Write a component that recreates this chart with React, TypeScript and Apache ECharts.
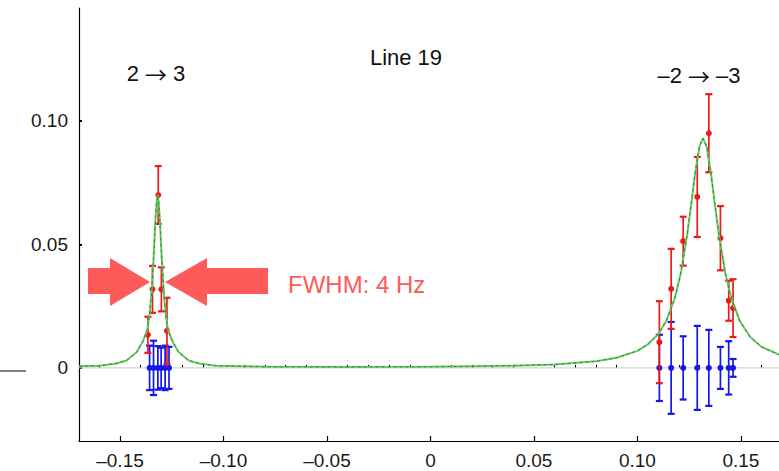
import React, { useEffect, useRef } from "react";
import * as echarts from "echarts";

// ---- axis ranges & ticks ----
const X_MIN = -0.1698;
const X_MAX = 0.1684;
const Y_MIN = -0.0296;
const Y_MAX = 0.1457;
const xMajorTicks = [-0.15, -0.1, -0.05, 0, 0.05, 0.1, 0.15];
const xMinorTicks = [
  -0.16, -0.14, -0.13, -0.12, -0.11, -0.09, -0.08, -0.07, -0.06, -0.04, -0.03, -0.02, -0.01,
  0.01, 0.02, 0.03, 0.04, 0.06, 0.07, 0.08, 0.09, 0.11, 0.12, 0.13, 0.14, 0.16,
];
const yTicks = [0, 0.05, 0.1];

// ---- fitted curve ----
const curveX = [
  -0.1698, -0.1598, -0.1518, -0.1468, -0.1418, -0.1388, -0.1368, -0.1358, -0.1348, -0.1338,
  -0.1328, -0.1323, -0.1318, -0.1313, -0.1308, -0.1298, -0.1288, -0.1278, -0.1268, -0.1248,
  -0.1218, -0.1168, -0.1118, -0.1038, -0.08, -0.04, 0, 0.04, 0.06, 0.08, 0.09, 0.1, 0.105,
  0.11, 0.114, 0.118, 0.121, 0.124, 0.126, 0.128, 0.13, 0.1317, 0.1335, 0.1355, 0.1375,
  0.1395, 0.1425, 0.1455, 0.1495, 0.1545, 0.16, 0.1684,
];
const curveY = [
  0.0007, 0.0009, 0.0018, 0.003, 0.0065, 0.011, 0.0155, 0.021, 0.03, 0.044, 0.061, 0.067,
  0.07, 0.067, 0.061, 0.044, 0.03, 0.021, 0.0155, 0.011, 0.0065, 0.003, 0.0018, 0.0009,
  0.0005, 0.0004, 0.0005, 0.0009, 0.0014, 0.0027, 0.0041, 0.0069, 0.0095, 0.0136, 0.0191,
  0.028, 0.0385, 0.0537, 0.0664, 0.0795, 0.0898, 0.093, 0.0894, 0.0789, 0.0657, 0.0531,
  0.0381, 0.0278, 0.0189, 0.0125, 0.0085, 0.0054,
];

// ---- red measurements ----
const redX = [
  -0.1365, -0.1343, -0.1315, -0.13, -0.1273, 0.1106, 0.1163, 0.1221, 0.1289, 0.1345, 0.1401,
  0.1441, 0.1462,
];
const redY = [
  0.0134, 0.0318, 0.07, 0.0318, 0.015, 0.0104, 0.032, 0.0513, 0.0692, 0.095, 0.0525, 0.0272,
  0.0242,
];
const redErr = [
  0.0073, 0.0095, 0.0117, 0.0089, 0.0134, 0.0166, 0.0162, 0.0099, 0.0162, 0.0158, 0.013,
  0.0081, 0.0117,
];

// ---- blue measurements ----
const blueX = [
  -0.1357, -0.1338, -0.1317, -0.1301, -0.1282, -0.1263, 0.1106, 0.1163, 0.1221, 0.1289,
  0.1345, 0.1401, 0.1441, 0.1462,
];
const blueY = [0, 0, 0, 0, 0, 0, 0, 0, 0, 0, 0, 0, 0, 0];
const blueErr = [
  0.009, 0.011, 0.0088, 0.0082, 0.009, 0.0085, 0.0134, 0.0186, 0.0128, 0.017, 0.0154, 0.0085,
  0.0108, 0.0036,
];

const FONT = "'Liberation Sans', Arial, Helvetica, sans-serif";
const ARROW_COLOR = "#ff5a5a";

function fmt(v: number): string {
  if (Math.abs(v) < 1e-9) return "0";
  return (v < 0 ? "\u2013" : "") + Math.abs(v).toFixed(2);
}

function errorBarSeries(xs: number[], ys: number[], es: number[], color: string, z: number) {
  const data = xs.map((x, i) => [x, ys[i], es[i]]);
  return {
    type: "custom",
    z,
    silent: true,
    clip: false,
    data,
    encode: { x: 0, y: 1 },
    renderItem: (params: any, api: any) => {
      const x = api.value(0);
      const y = api.value(1);
      const e = api.value(2);
      const p = api.coord([x, y]);
      const t = api.coord([x, y + e]);
      const b = api.coord([x, y - e]);
      const style = { stroke: color, lineWidth: 1.7 };
      return {
        type: "group",
        children: [
          { type: "line", shape: { x1: p[0], y1: t[1], x2: p[0], y2: b[1] }, style },
          { type: "line", shape: { x1: p[0] - 3.5, y1: t[1], x2: p[0] + 3.5, y2: t[1] }, style: { stroke: color, lineWidth: 2.2 } },
          { type: "line", shape: { x1: p[0] - 3.5, y1: b[1], x2: p[0] + 3.5, y2: b[1] }, style: { stroke: color, lineWidth: 2.2 } },
          { type: "circle", shape: { cx: p[0], cy: p[1], r: 3 }, style: { fill: color } },
        ],
      };
    },
  };
}

const arrowRich = { a: { fontFamily: "'Noto Sans CJK SC', sans-serif", fontSize: 22, fill: "#111" } };

export default function App() {
  const ref = useRef<HTMLDivElement>(null);
  useEffect(() => {
    if (!ref.current) return;
    const chart = echarts.init(ref.current, undefined, { renderer: "svg" });
    const curveData = curveX.map((x, i) => [x, curveY[i]]);
    const option: any = {
      animation: false,
      backgroundColor: "#ffffff",
      grid: { left: 79, top: 8, width: 700, height: 433, containLabel: false },
      xAxis: [
        {
          type: "value",
          min: X_MIN,
          max: X_MAX,
          axisLine: { show: true, onZero: false, lineStyle: { color: "#000", width: 1.2 } },
          axisTick: { show: true, inside: true, length: 5, customValues: xMajorTicks, lineStyle: { color: "#000", width: 1.2 } },
          axisLabel: {
            show: true,
            customValues: xMajorTicks,
            formatter: (v: number) => fmt(v),
            fontFamily: FONT,
            fontSize: 19,
            color: "#1a1a1a",
            margin: 10,
          },
          splitLine: { show: false },
        },
        {
          type: "value",
          min: X_MIN,
          max: X_MAX,
          position: "bottom",
          axisLine: { show: false },
          axisTick: { show: true, inside: true, length: 3, customValues: xMinorTicks, lineStyle: { color: "#000", width: 1 } },
          axisLabel: { show: false },
          splitLine: { show: false },
        },
      ],
      yAxis: {
        type: "value",
        min: Y_MIN,
        max: Y_MAX,
        axisLine: { show: true, onZero: false, lineStyle: { color: "#000", width: 1.2 } },
        axisTick: { show: true, inside: true, length: 3, customValues: yTicks, lineStyle: { color: "#000", width: 2 } },
        axisLabel: {
          show: true,
          customValues: yTicks,
          formatter: (v: number) => fmt(v),
          fontFamily: FONT,
          fontSize: 19,
          color: "#1a1a1a",
          margin: 11,
        },
        splitLine: { show: false },
      },
      series: [
        {
          type: "line",
          z: 1,
          silent: true,
          symbol: "none",
          data: [
            [X_MIN, 0],
            [X_MAX, 0],
          ],
          lineStyle: { color: "#c8c8c8", width: 1 },
        },
        errorBarSeries(blueX, blueY, blueErr, "#1515ee", 2),
        errorBarSeries(redX, redY, redErr, "#f01818", 3),
        {
          type: "line",
          z: 4,
          silent: true,
          symbol: "none",
          data: curveData,
          lineStyle: { color: "#6cc86c", width: 2 },
        },
        {
          type: "line",
          z: 5,
          silent: true,
          symbol: "none",
          data: curveData,
          lineStyle: { color: "#2a8f2a", width: 1, type: [3, 3] },
        },
      ],
      graphic: [
        {
          type: "polygon",
          z: 10,
          shape: {
            points: [
              [88, 268],
              [110, 268],
              [110, 258],
              [150, 282],
              [110, 306],
              [110, 294],
              [88, 294],
            ],
          },
          style: { fill: ARROW_COLOR },
        },
        {
          type: "polygon",
          z: 10,
          shape: {
            points: [
              [268, 268],
              [207, 268],
              [207, 258],
              [165, 282],
              [207, 306],
              [207, 294],
              [268, 294],
            ],
          },
          style: { fill: ARROW_COLOR },
        },
        {
          type: "text",
          z: 10,
          x: 288,
          y: 284,
          style: { text: "FWHM: 4 Hz", fill: ARROW_COLOR, font: `24px ${FONT}`, textAlign: "left", textVerticalAlign: "middle" },
        },
        {
          type: "text",
          z: 10,
          x: 406,
          y: 57,
          style: { text: "Line 19", fill: "#111", font: `22px ${FONT}`, textAlign: "center", textVerticalAlign: "middle" },
        },
        {
          type: "text",
          z: 10,
          x: 156,
          y: 73,
          style: {
            text: "2 {a|\u2192} 3",
            fill: "#111",
            font: `22px ${FONT}`,
            textAlign: "center",
            textVerticalAlign: "middle",
            rich: arrowRich,
          },
        },
        {
          type: "text",
          z: 10,
          x: 699,
          y: 75,
          style: {
            text: "\u20132 {a|\u2192} \u20133",
            fill: "#111",
            font: `22px ${FONT}`,
            textAlign: "center",
            textVerticalAlign: "middle",
            rich: arrowRich,
          },
        },
        {
          type: "line",
          z: 10,
          shape: { x1: 0, y1: 371, x2: 26, y2: 371 },
          style: { stroke: "#000", lineWidth: 1 },
        },
      ],
    };
    chart.setOption(option);
    return () => chart.dispose();
  }, []);
  return (
    <div
      ref={ref}
      style={{ position: "fixed", left: 0, top: 0, width: 779, height: 471, background: "#fff" }}
    />
  );
}
